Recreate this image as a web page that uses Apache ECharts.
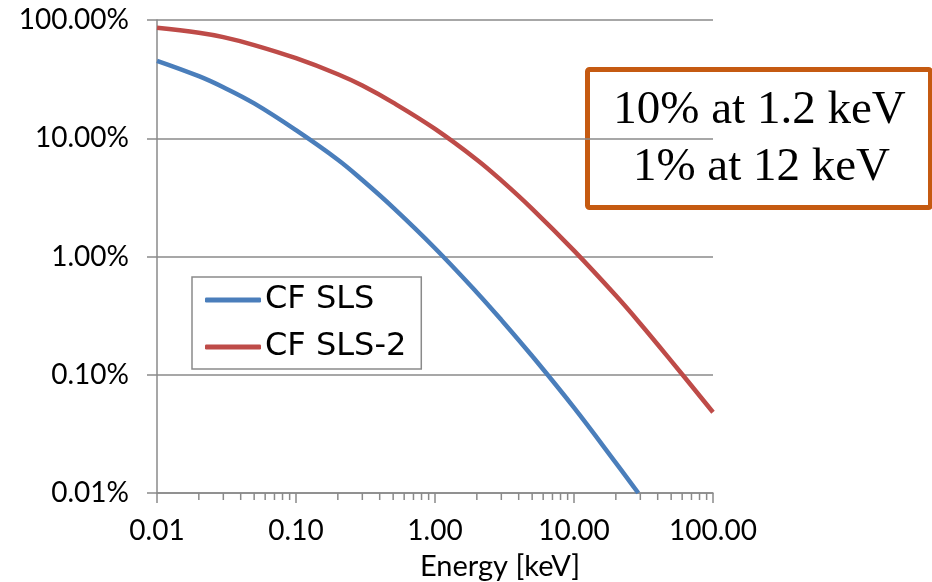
<!DOCTYPE html>
<html>
<head>
<meta charset="utf-8">
<script src="https://cdn.jsdelivr.net/npm/echarts@6/dist/echarts.min.js"></script>
<style>
  html, body { margin: 0; padding: 0; background: #fff; }
  #chart { width: 932px; height: 582px; }
</style>
</head>
<body>
<div id="chart"></div>
<script>
// Photon energy in keV and transverse coherent fraction in percent
const slsEnergy = [0.01, 0.02, 0.03, 0.05, 0.1, 0.2, 0.3, 0.5, 1, 2, 3, 5, 10, 20, 29];
const slsFraction = [45.2, 33.5, 27.0, 19.7, 11.7, 6.58, 4.43, 2.59, 1.175, 0.497, 0.291, 0.144, 0.0527, 0.018, 0.0100];

const sls2Energy = [0.01, 0.02, 0.03, 0.05, 0.1, 0.2, 0.3, 0.5, 1, 2, 3, 5, 10, 20, 30, 50, 100];
const sls2Fraction = [86.1, 78.0, 71.6, 61.4, 47.5, 34.8, 27.9, 20.0, 12.0, 6.59, 4.40, 2.53, 1.12, 0.467, 0.270, 0.131, 0.0482];

const seriesNames = ['CF SLS', 'CF SLS-2'];
const noteLines = ['10% at 1.2 keV', '1% at 12 keV'];
const xAxisTitle = 'Energy [keV]';

// Minor tick positions between decades on the energy axis
const minorTicks = [];
[0.01, 0.1, 1, 10].forEach(function (d) {
  for (let k = 2; k <= 9; k++) minorTicks.push(+(d * k).toPrecision(3));
});

const gridColor = '#8a8a8a';
const labelFont = 'Lato, "Open Sans", sans-serif';

const chart = echarts.init(document.getElementById('chart'), null, { renderer: 'canvas' });

const option = {
  animation: false,
  backgroundColor: '#ffffff',
  grid: { left: 157, right: 219, top: 20, bottom: 89, containLabel: false },
  xAxis: {
    type: 'log',
    logBase: 10,
    min: 0.01,
    max: 100,
    axisLine: { show: true, onZero: false, lineStyle: { color: gridColor, width: 1.5 } },
    axisTick: { show: true, length: 10, lineStyle: { color: gridColor, width: 1.5 } },
    splitLine: { show: false },
    axisLabel: {
      margin: 24,
      color: '#000',
      fontSize: 28,
      fontFamily: labelFont,
      formatter: function (v) { return Number(v).toFixed(2); }
    }
  },
  yAxis: {
    type: 'log',
    logBase: 10,
    min: 0.01,
    max: 100,
    axisLine: { show: true, lineStyle: { color: gridColor, width: 1.5 } },
    axisTick: { show: true, length: 10, lineStyle: { color: gridColor, width: 1.5 } },
    splitLine: { show: true, lineStyle: { color: gridColor, width: 1.5 } },
    axisLabel: {
      margin: 28,
      color: '#000',
      fontSize: 28,
      fontFamily: labelFont,
      formatter: function (v) { return Number(v).toFixed(2) + '%'; }
    }
  },
  legend: {
    orient: 'vertical',
    left: 192,
    top: 277,
    data: seriesNames,
    backgroundColor: '#fff',
    borderColor: '#8a8a8a',
    borderWidth: 1.5,
    padding: [7, 15, 6, 13],
    itemGap: 15,
    itemWidth: 56,
    itemHeight: 5,
    icon: 'roundRect',
    textStyle: { fontSize: 32, lineHeight: 32, fontFamily: '"DejaVu Sans", sans-serif', color: '#000', padding: [0, 0, 0, -1] }
  },
  series: [
    {
      name: seriesNames[0],
      type: 'line',
      data: slsEnergy.map(function (e, i) { return [e, slsFraction[i]]; }),
      smooth: 0.4,
      showSymbol: false,
      symbol: 'none',
      color: '#4a7ebb',
      lineStyle: { color: '#4a7ebb', width: 4.5 },
      z: 3
    },
    {
      name: seriesNames[1],
      type: 'line',
      data: sls2Energy.map(function (e, i) { return [e, sls2Fraction[i]]; }),
      smooth: 0.4,
      showSymbol: false,
      symbol: 'none',
      color: '#be4b48',
      lineStyle: { color: '#be4b48', width: 4.5 },
      z: 3
    },
    {
      // short minor ticks below the energy axis
      type: 'custom',
      silent: true,
      clip: false,
      data: minorTicks.map(function (t) { return [t, 0.01]; }),
      renderItem: function (params, api) {
        const p = api.coord([api.value(0), api.value(1)]);
        return {
          type: 'line',
          shape: { x1: p[0], y1: p[1], x2: p[0], y2: p[1] + 7 },
          style: { stroke: gridColor, lineWidth: 1.5 }
        };
      },
      z: 2
    }
  ],
  graphic: [
    {
      type: 'group',
      left: 585,
      top: 67,
      z: 100,
      children: [
        {
          type: 'rect',
          shape: { x: 0, y: 0, width: 343, height: 138, r: 2 },
          style: { fill: '#fff', stroke: '#c55a11', lineWidth: 5 }
        },
        {
          type: 'text',
          x: 172, y: 41,
          style: {
            text: noteLines[0],
            font: '47px "Liberation Serif", "DejaVu Serif", serif',
            fill: '#000',
            align: 'center',
            verticalAlign: 'middle'
          }
        },
        {
          type: 'text',
          x: 174, y: 98,
          style: {
            text: noteLines[1],
            font: '47px "Liberation Serif", "DejaVu Serif", serif',
            fill: '#000',
            align: 'center',
            verticalAlign: 'middle'
          }
        }
      ]
    },
    {
      type: 'text',
      x: 500, y: 567,
      style: {
        text: xAxisTitle,
        font: '29px ' + labelFont,
        fill: '#000',
        align: 'center',
        verticalAlign: 'middle'
      }
    }
  ]
};

chart.setOption(option);
</script>
</body>
</html>
